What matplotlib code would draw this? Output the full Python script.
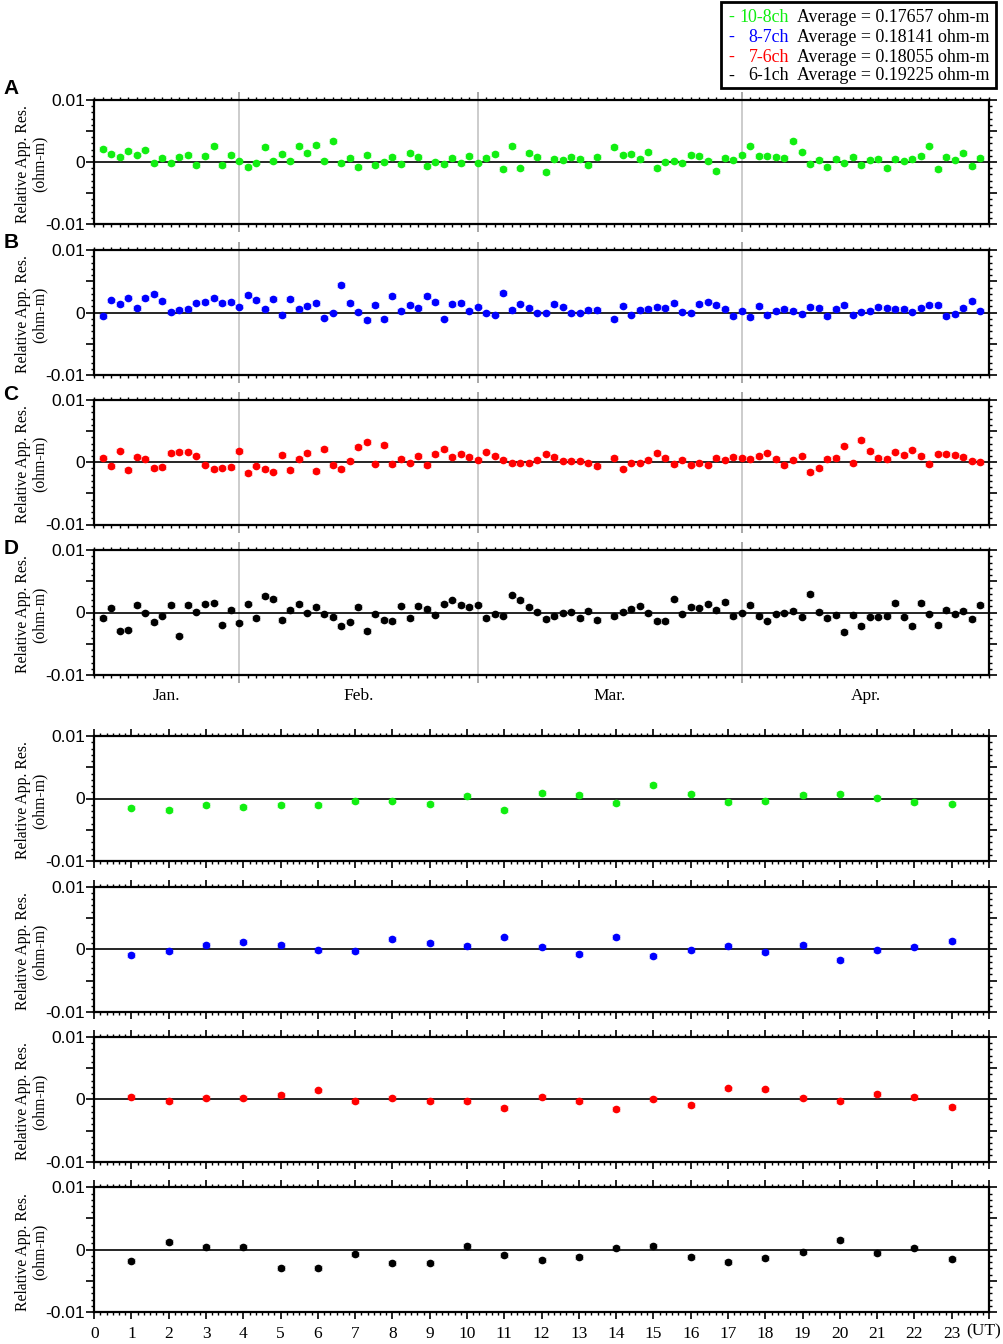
import numpy as np
import matplotlib
matplotlib.use("Agg")
import matplotlib.pyplot as plt
from matplotlib.ticker import MultipleLocator, FixedLocator, FixedFormatter
from matplotlib.patches import Rectangle

nan = np.nan

# ---------------- data ----------------
days = np.arange(1, 105)          # day index from 14 Jan (x=0) to 30 Apr
month_bounds = [0, 17, 45, 76, 105]
month_labels = ['Jan.', 'Feb.', 'Mar.', 'Apr.']

A_10_8 = [0.00205, 0.00124, 0.00086, 0.00173, 0.00119, 0.0020, -0.00016, 0.0006, -0.00016, 0.00081,
          0.00114, -0.00043, 0.00092, 0.00254, -0.00043, 0.00108, 0.0001, -0.00076, -0.0001, 0.00243,
          0.0002, 0.0013, 0.0002, 0.00254, 0.0014, 0.0028, 0.00016, 0.0034, -0.0002, 0.0006,
          -0.00086, 0.00114, -0.0005, 0.00005, 0.00076, -0.0003, 0.00146, 0.00086, -0.00065, 0.0,
          -0.0003, 0.00065, -0.0002, 0.00092, -0.0001, 0.00065, 0.00124, -0.00114, 0.00254, -0.00103,
          0.0014, 0.00081, -0.00162, 0.00054, 0.00027, 0.00081, 0.00054, -0.00054, 0.00076, nan,
          0.00243, 0.00119, 0.0013, 0.00043, 0.00157, -0.00097, 0.0, 0.0001, -0.0002, 0.00108,
          0.00097, 0.00016, -0.0015, 0.0006, 0.00027, 0.00114, 0.00265, 0.00092, 0.00097, 0.00081,
          0.0007, 0.0034, 0.00168, -0.00038, 0.00038, -0.00076, 0.00049, -0.0001, 0.00076, -0.00043,
          0.00038, 0.00054, -0.00092, 0.00043, 0.0001, 0.00049, 0.001, 0.00265, -0.00114, 0.00086,
          0.00032, 0.0015, -0.00065, 0.00065]

B_8_7 = [-0.00059, 0.00193, 0.00134, 0.0024, 0.0007, 0.00235, 0.003, 0.00187, 0.0001, 0.00048,
         0.00053, 0.0016, 0.00171, 0.00235, 0.0015, 0.00166, 0.00096, 0.00283, 0.00198, 0.00064,
         0.00214, -0.00037, 0.00219, 0.00059, 0.001, 0.0015, -0.0008, 0.0, 0.00438, 0.00155,
         0.00005, -0.00118, 0.00118, -0.001, 0.00267, 0.0002, 0.00123, 0.00075, 0.00262, 0.00166,
         -0.00096, 0.00139, 0.00155, 0.00032, 0.00096, -0.0001, -0.00032, 0.0031, 0.00043, 0.00144,
         0.0008, 0.0, 0.0, 0.00134, 0.00096, -0.00005, 0.0, 0.00043, 0.00037, nan,
         -0.001, 0.00112, -0.00032, 0.00048, 0.00053, 0.00091, 0.0007, 0.0015, 0.00016, -0.0001,
         0.00134, 0.00176, 0.00118, 0.00064, -0.00053, 0.0002, -0.0007, 0.00107, -0.00037, 0.00027,
         0.00053, 0.0002, -0.0002, 0.00086, 0.00075, -0.00053, 0.00059, 0.00118, -0.00032, 0.00016,
         0.00027, 0.00091, 0.00075, 0.00053, 0.00059, 0.00016, 0.00075, 0.00118, 0.00118, -0.00059,
         -0.00027, 0.00075, 0.00187, 0.00032]

C_7_6 = [0.00075, -0.00059, 0.00187, -0.00123, 0.00091, 0.00059, -0.00091, -0.0008, 0.00144, 0.00166,
         0.00171, 0.00107, -0.00037, -0.00112, -0.00086, -0.00075, 0.00182, -0.00176, -0.00053, -0.00112,
         -0.0015, 0.00112, -0.00123, 0.00059, 0.00144, -0.00144, 0.00214, -0.00043, -0.00107, 0.00021,
         0.00246, 0.00326, -0.00021, 0.00273, -0.00032, 0.00048, -0.00005, 0.00096, -0.00043, 0.00128,
         0.00209, 0.00086, 0.00134, 0.00086, 0.00043, 0.00171, 0.00107, 0.00043, -0.00016, -0.00016,
         -0.00016, 0.00043, 0.00139, 0.00086, 0.00027, 0.00016, 0.00021, -0.00016, -0.00059, nan,
         0.00075, -0.00102, -0.00005, -0.00005, 0.00037, 0.0015, 0.00064, -0.00027, 0.00037, -0.00037,
         -0.0001, -0.00037, 0.00064, 0.00043, 0.00086, 0.00075, 0.00053, 0.001, 0.00155, 0.00053,
         -0.00048, 0.00032, 0.00107, -0.00155, -0.00091, 0.00053, 0.0007, 0.00267, -0.00016, 0.00353,
         0.00182, 0.00075, 0.00059, 0.00171, 0.00112, 0.00203, 0.001, -0.00032, 0.00139, 0.00128,
         0.00118, 0.00086, 0.00021, 0.0]

D_6_1 = [-0.00091, 0.0008, -0.00289, -0.00273, 0.00123, 0.0, -0.0015, -0.00048, 0.00123, -0.00369,
         0.00123, 0.00016, 0.00144, 0.0016, -0.00193, 0.00048, -0.0016, 0.00144, -0.00086, 0.00262,
         0.00214, -0.00123, 0.00048, 0.00134, 0.0, 0.00086, -0.00021, -0.00075, -0.00214, -0.00144,
         0.00091, -0.00294, -0.00027, -0.00123, -0.00139, 0.00112, -0.00091, 0.00102, 0.00059, -0.00032,
         0.00144, 0.00193, 0.00118, 0.00086, 0.00128, -0.00086, -0.00027, -0.00048, 0.00273, 0.00198,
         0.00096, 0.0001, -0.00107, -0.00059, -0.0001, 0.00016, -0.00091, 0.00032, -0.00123, nan,
         -0.00059, 0.0001, 0.00059, 0.00112, -0.00005, -0.00139, -0.00139, 0.00209, -0.00016, 0.00086,
         0.0008, 0.00144, 0.00048, 0.00171, -0.00053, 0.0, 0.00118, -0.00059, -0.00128, -0.00016,
         0.0, 0.00021, -0.00064, 0.00294, 0.00005, -0.00086, -0.00037, -0.0031, -0.00037, -0.00214,
         -0.00064, -0.00064, -0.00059, 0.0015, -0.00064, -0.00219, 0.00155, -0.00016, -0.00203, 0.00048,
         -0.00027, 0.00021, -0.001, 0.00118]

hours = np.arange(1, 24)
hour_labels = [str(h) for h in range(24)]
unit_label = '(UT)'

E_10_8 = [-0.00144, -0.00181, -0.00101, -0.00133, -0.00101, -0.00106, -0.00037, -0.00032, -0.0009, 0.00037,
          -0.00181, 0.00085, 0.00053, -0.00074, 0.00218, 0.0008, -0.00059, -0.00043, 0.00053, 0.0008,
          0.00016, -0.00059, -0.0008]
F_8_7 = [-0.00085, -0.00027, 0.00074, 0.00112, 0.00069, -0.00005, -0.00032, 0.0017, 0.00096, 0.00059,
         0.00191, 0.00037, -0.0008, 0.00202, -0.00112, -0.0001, 0.00053, -0.00043, 0.00069, -0.00176,
         -0.0001, 0.00037, 0.00128]
G_7_6 = [0.00037, -0.00032, 0.00027, 0.00027, 0.00075, 0.00144, -0.00032, 0.00016, -0.00021, -0.00027,
         -0.00134, 0.00037, -0.00032, -0.0015, 0.00005, -0.00096, 0.00176, 0.0016, 0.00016, -0.00021,
         0.00086, 0.00037, -0.00123]
H_6_1 = [-0.00187, 0.00118, 0.00043, 0.00037, -0.003, -0.00294, -0.00064, -0.00214, -0.00209, 0.00064,
         -0.00086, -0.00171, -0.00123, 0.00021, 0.00053, -0.00118, -0.00198, -0.00128, -0.00037, 0.0015,
         -0.00059, 0.00021, -0.00155]

series_names = ['10-8ch', '8-7ch', '7-6ch', '6-1ch']
averages = ['0.17657', '0.18141', '0.18055', '0.19225']
colors = ['#11ee11', '#0000ff', '#ff0000', '#000000']
err_size = 0.0003

# ---------------- figure ----------------
W, H = 1004, 1344
fig = plt.figure(figsize=(W / 100, H / 100), dpi=100)
SERIF = ['Liberation Serif', 'DejaVu Serif']
SANS = ['Liberation Sans', 'DejaVu Sans']

left_px, right_px = 94.2, 989.0
top_panels_px = [(100, 224), (250, 375), (400, 524.5), (550, 675)]
bot_panels_px = [(736, 861), (886.7, 1012), (1037, 1161.7), (1187.3, 1312)]
letters = ['A', 'B', 'C', 'D']
letter_y = [88, 242, 394, 548]


def make_ax(top, bot):
    return fig.add_axes([left_px / W, 1 - bot / H, (right_px - left_px) / W, (bot - top) / H])


def style_y(ax):
    ax.set_ylim(-0.01, 0.01)
    ax.yaxis.set_major_locator(FixedLocator([-0.01, -0.005, 0, 0.005, 0.01]))
    ax.yaxis.set_major_formatter(FixedFormatter(['-0.01', '', '0', '', '0.01']))
    ax.yaxis.set_minor_locator(MultipleLocator(0.001))
    ax.tick_params(axis='y', which='both', direction='out', left=True, right=True, pad=1)
    ax.tick_params(axis='y', which='major', length=5.5, width=1.2)
    ax.tick_params(axis='y', which='minor', length=2.5, width=1.0)
    for lab in ax.get_yticklabels():
        lab.set_family(SANS)
        lab.set_fontsize(12.5)
    for s in ax.spines.values():
        s.set_linewidth(1.6)
    ax.axhline(0, color='black', lw=1.2, zorder=1)
    pos = ax.get_position()
    fig.text(31 / W, 0.5 * (pos.y0 + pos.y1) - 2 / H, 'Relative App. Res.\n(ohm-m)', rotation=90,
             ha='center', va='center', multialignment='center', family=SERIF, fontsize=11.3,
             linespacing=1.05)


daily = [A_10_8, B_8_7, C_7_6, D_6_1]
for i, (vals, (t, b)) in enumerate(zip(daily, top_panels_px)):
    ax = make_ax(t, b)
    c = colors[i]
    ax.errorbar(days, vals, yerr=err_size, fmt='o', ms=4.5, color=c, mec=c,
                ecolor=matplotlib.colors.to_rgba(c, 0.35), elinewidth=1, capsize=3, zorder=3)
    ax.set_xlim(month_bounds[0], month_bounds[-1])
    for mb in month_bounds[1:-1]:
        ax.axvline(mb, color='#c4c4c4', lw=1.2, zorder=0)
    ax.set_xticks(month_bounds[1:-1])
    ax.xaxis.set_minor_locator(MultipleLocator(1))
    ax.tick_params(axis='x', which='both', direction='out', top=True, bottom=True, labelbottom=False)
    ax.tick_params(axis='x', which='major', length=6, width=1.2, color='#999999')
    ax.tick_params(axis='x', which='minor', length=2.5, width=1.0)
    style_y(ax)
    fig.text(11 / W, 1 - letter_y[i] / H, letters[i], ha='center', va='center',
             family=SANS, fontsize=15, fontweight='bold')
    if i == 3:
        for k, lab in enumerate(month_labels):
            ax.text(0.5 * (month_bounds[k] + month_bounds[k + 1]), -0.165, lab,
                    transform=ax.get_xaxis_transform(), ha='center', va='center',
                    family=SERIF, fontsize=12.5)

hourly = [E_10_8, F_8_7, G_7_6, H_6_1]
for i, (vals, (t, b)) in enumerate(zip(hourly, bot_panels_px)):
    ax = make_ax(t, b)
    c = colors[i]
    ax.errorbar(hours, vals, yerr=err_size, fmt='o', ms=4.5, color=c, mec=c,
                ecolor=matplotlib.colors.to_rgba(c, 0.35), elinewidth=1, capsize=3, zorder=3)
    ax.set_xlim(0, 24)
    ax.set_xticks(range(25))
    ax.xaxis.set_minor_locator(MultipleLocator(1 / 6))
    ax.tick_params(axis='x', which='both', direction='out', top=True, bottom=True,
                   labelbottom=(i == 3))
    ax.tick_params(axis='x', which='major', length=5, width=1.2, pad=5)
    ax.tick_params(axis='x', which='minor', length=2.5, width=1.0)
    if i == 3:
        ax.set_xticklabels(hour_labels + [''], family=SERIF, fontsize=12.5)
        ax.text(23.85, -0.155, unit_label, transform=ax.get_xaxis_transform(),
                ha='center', va='center', family=SERIF, fontsize=12.5)
    style_y(ax)

# ---------------- legend box ----------------
fig.patches.append(Rectangle((721 / W, 1 - 88 / H), (996 - 721) / W, 86 / H,
                             transform=fig.transFigure, fill=False, lw=2, ec='black'))
row_y = [17, 37, 57, 76]
for k in range(4):
    y = 1 - row_y[k] / H
    fig.text(728 / W, y, '-', color=colors[k], ha='left', va='center', family=SERIF, fontsize=12.9)
    fig.text(789 / W, y, series_names[k], color=colors[k], ha='right', va='center',
             family=SERIF, fontsize=12.9)
    fig.text(797 / W, y, 'Average = %s ohm-m' % averages[k], color='black', ha='left',
             va='center', family=SERIF, fontsize=12.9)

fig.savefig('out.png', dpi=100)
